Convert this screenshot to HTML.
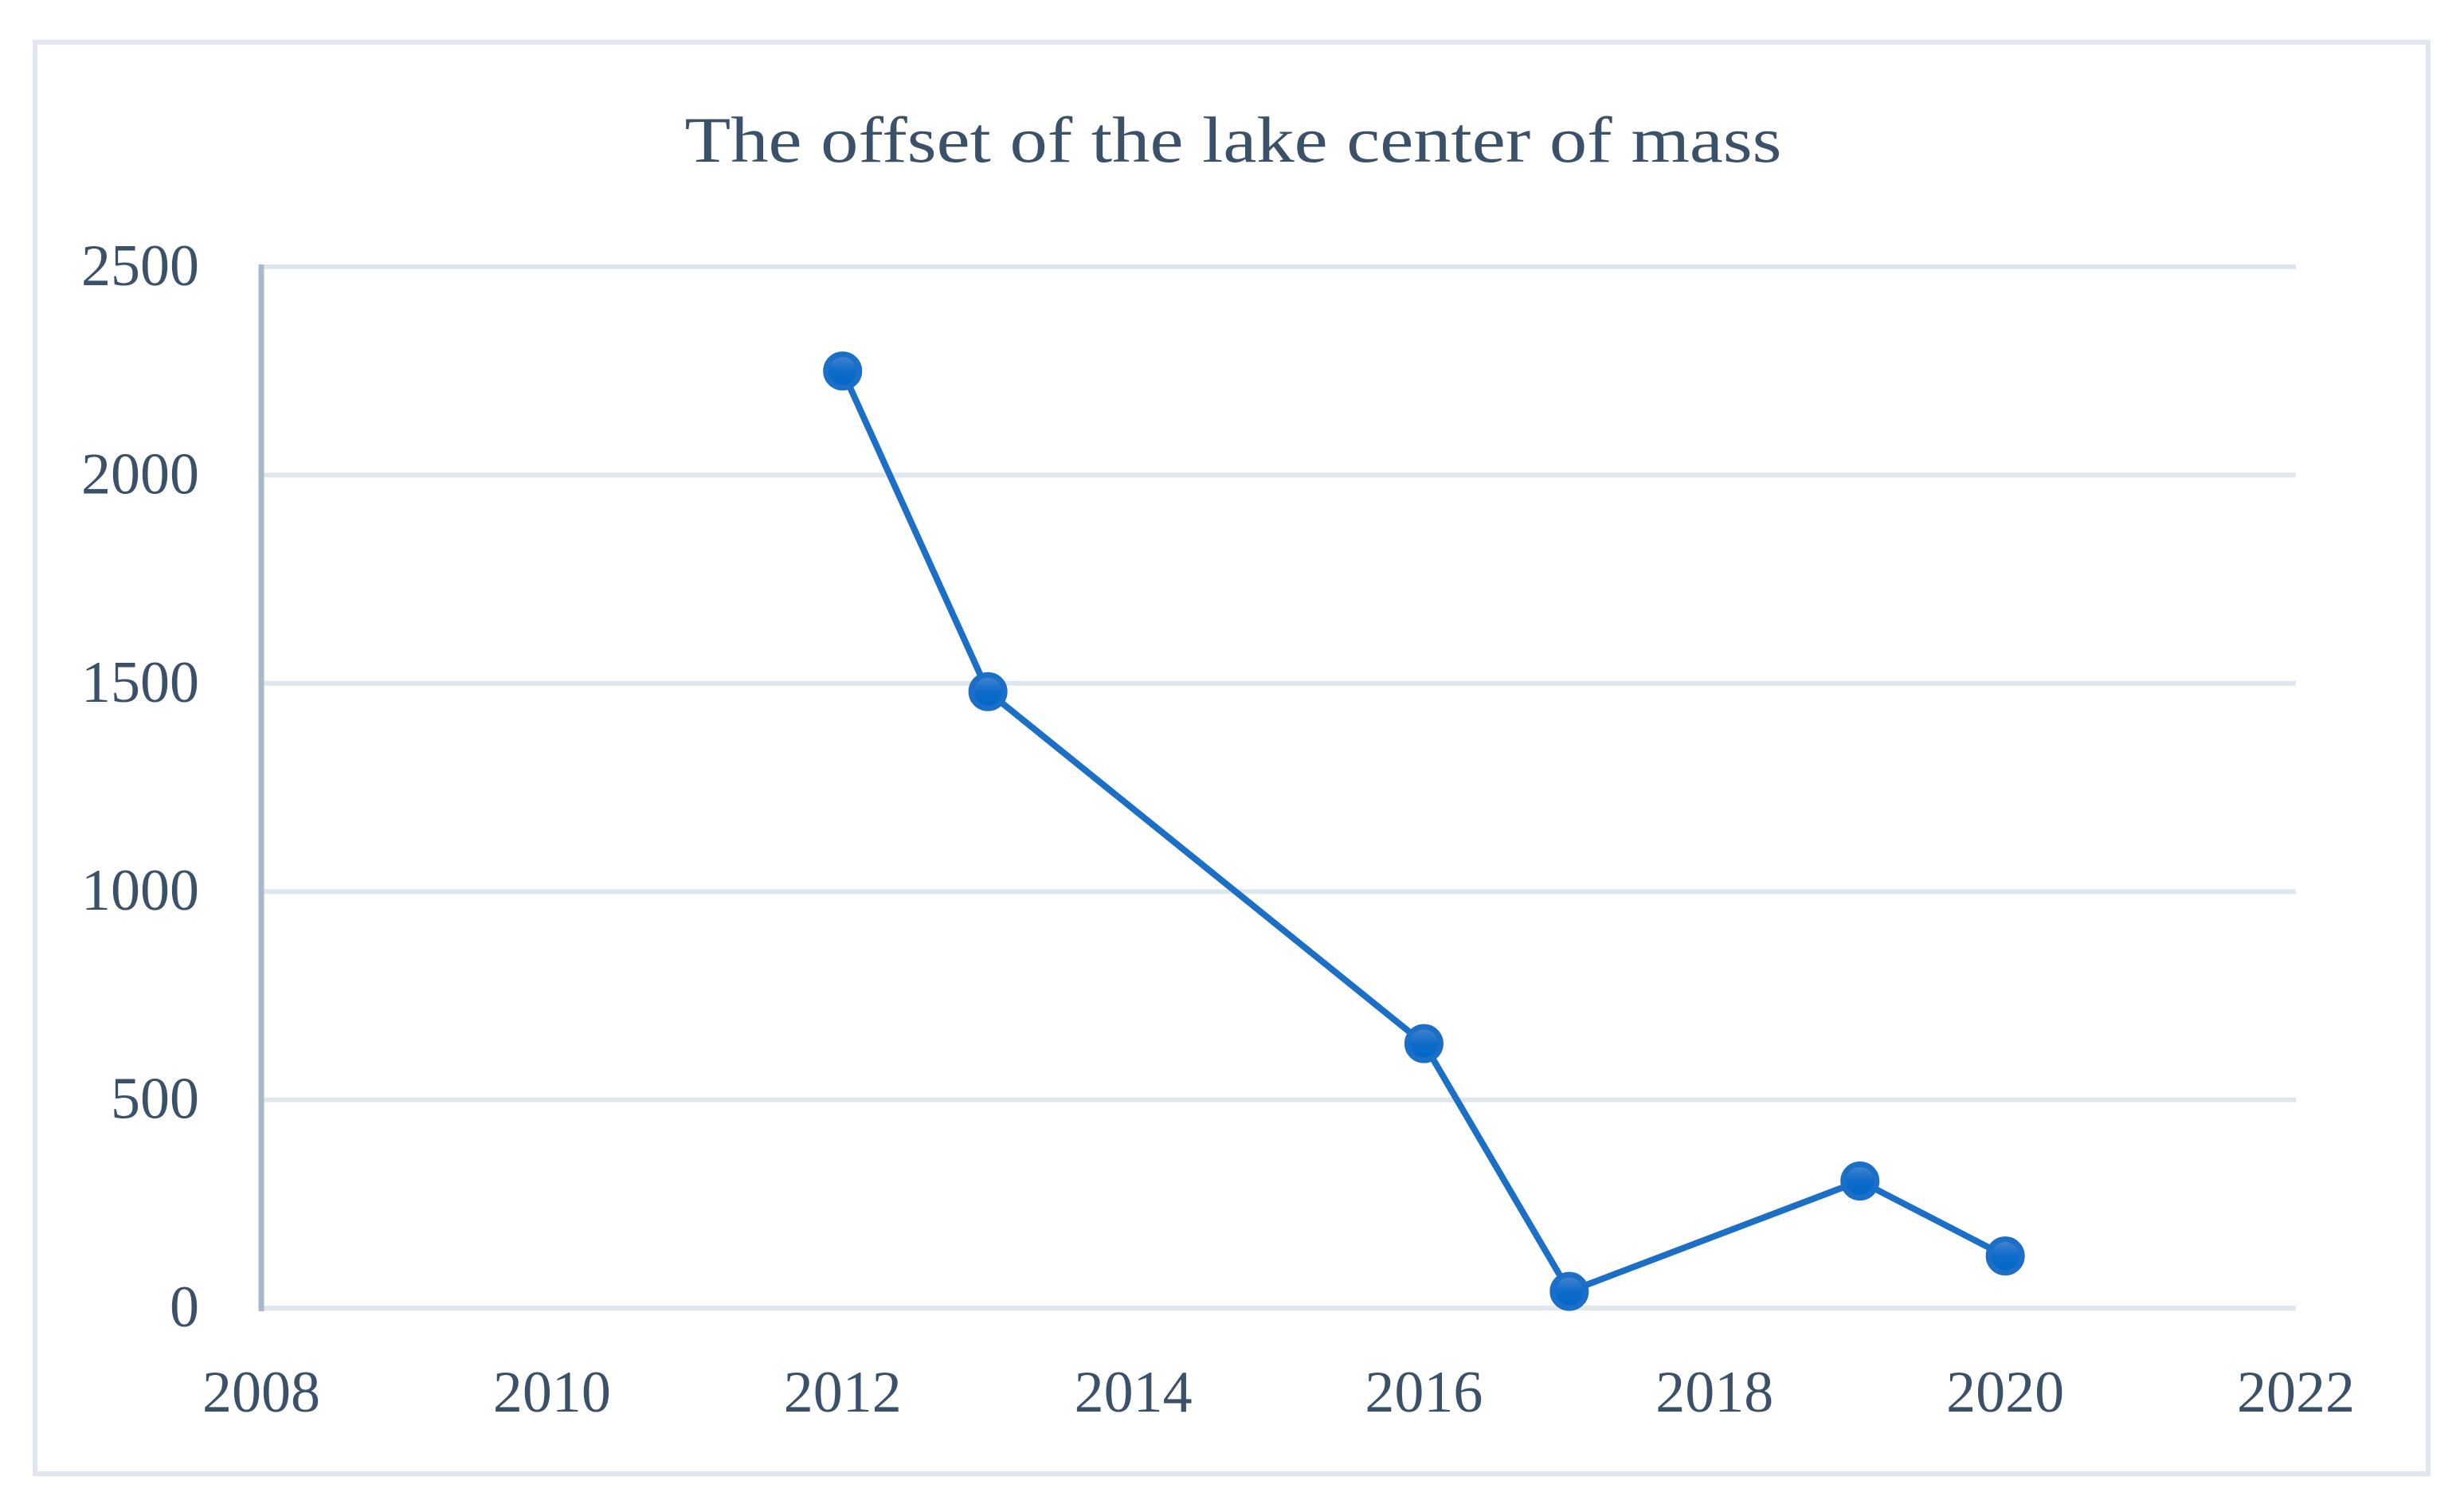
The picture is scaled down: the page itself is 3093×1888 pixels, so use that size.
<!DOCTYPE html>
<html><head><meta charset="utf-8"><style>
html,body{margin:0;padding:0;background:#fff;}
svg{display:block;}
text{font-family:"Liberation Serif",serif;fill:#3b5169;}
</style></head><body>
<svg id="chart" width="3093" height="1888" viewBox="0 0 3093 1888" xmlns="http://www.w3.org/2000/svg">
<defs>
<linearGradient id="mg" x1="0" y1="0" x2="0" y2="1">
<stop offset="0" stop-color="#4a86cf"/><stop offset="0.5" stop-color="#0f6cc9"/><stop offset="1" stop-color="#0066c8"/>
</linearGradient>
</defs>
<rect x="44" y="53" width="3004" height="1797" fill="#fff" stroke="#dfe6ee" stroke-width="6"/>
<text x="1548" y="203" font-size="82" text-anchor="middle" textLength="1377" lengthAdjust="spacingAndGlyphs">The offset of the lake center of mass</text>
<g id="grid"></g>
<g id="ylabels"></g>
<g id="xlabels"></g>
<line x1="328" y1="332" x2="328" y2="1646" stroke="#a9b9cb" stroke-width="7"/>
<g id="series"></g>
</svg>
<script>
const years = [2012, 2013, 2016, 2017, 2019, 2020];
const offsets = [2250, 1480, 635, 40, 305, 125];
const yTicks = [0, 500, 1000, 1500, 2000, 2500];
const xTicks = [2008, 2010, 2012, 2014, 2016, 2018, 2020, 2022];
const NS = "http://www.w3.org/2000/svg";
const X0 = 328, X1 = 2882, Y0 = 1642, Y1 = 335;
function sx(v){ return X0 + (v - 2008) / 14 * (X1 - X0); }
function sy(v){ return Y0 - v / 2500 * (Y0 - Y1); }
function mk(tag, attrs, parent){ const e = document.createElementNS(NS, tag); for (const k in attrs) e.setAttribute(k, attrs[k]); parent.appendChild(e); return e; }
const grid = document.getElementById('grid'), yl = document.getElementById('ylabels'), xl = document.getElementById('xlabels'), ser = document.getElementById('series');
yTicks.forEach(t => {
  const l = mk('line', {x1: X0, x2: X1, y1: sy(t), y2: sy(t), stroke: '#dfe6ee', 'stroke-width': 6}, grid);
  
  
  const tx = mk('text', {x: 250, y: sy(t) + 23, 'font-size': 74, 'text-anchor': 'end'}, yl);
  tx.textContent = t;
  
  
});
xTicks.forEach(t => {
  const tx = mk('text', {x: sx(t), y: 1772, 'font-size': 74, 'text-anchor': 'middle'}, xl);
  tx.textContent = t;
  
  
});
const pts = years.map((y, i) => sx(y) + ',' + sy(offsets[i])).join(' ');
const pl = mk('polyline', {points: pts, fill: 'none', stroke: '#1b6fc6', 'stroke-width': 8, 'stroke-linejoin': 'round'}, ser);


years.forEach((y, i) => {
  const c = mk('circle', {cx: sx(y), cy: sy(offsets[i]), r: 21, fill: 'url(#mg)', stroke: '#1b6fc6', 'stroke-width': 7}, ser);
  
  
});
</script>
</body></html>
